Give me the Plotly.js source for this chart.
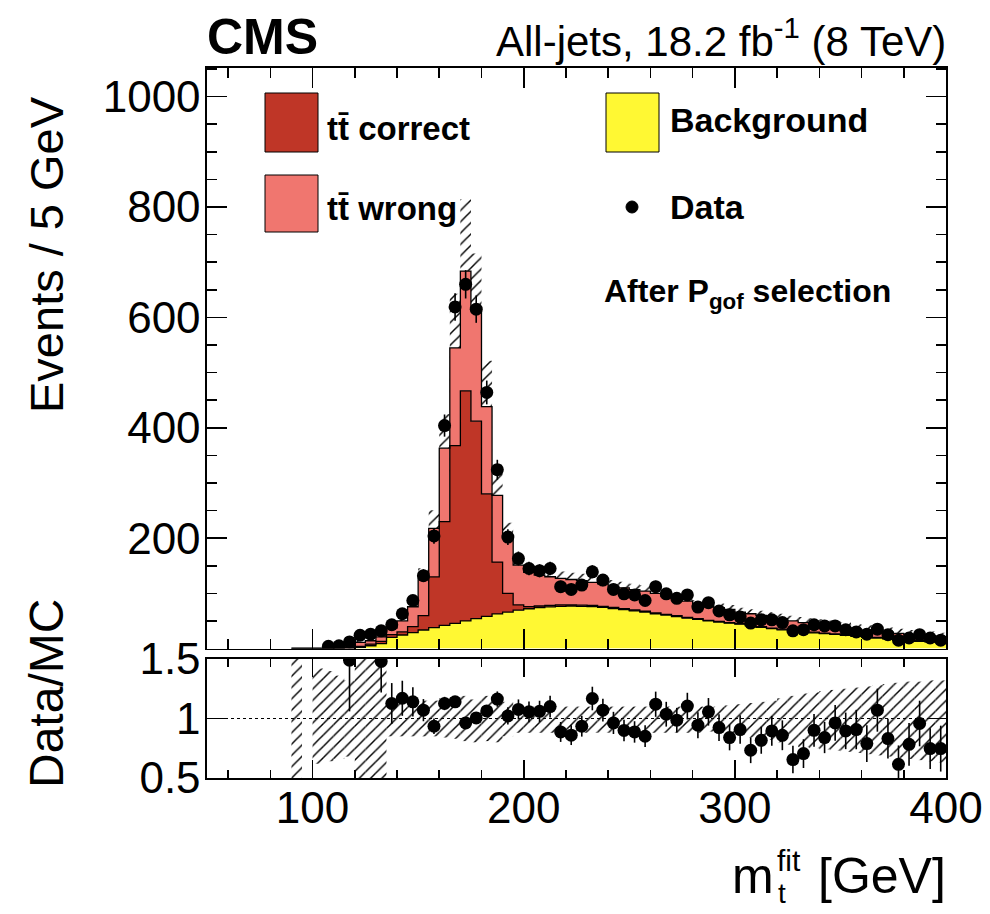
<!DOCTYPE html>
<html>
<head>
<meta charset="utf-8">
<script src="https://cdn.plot.ly/plotly-3.0.1.min.js"></script>
<style>html,body{margin:0;padding:0;background:#fff;} #chart{width:990px;height:914px;}</style>
</head>
<body>
<div id="chart"></div>
<script>
// ---- data (5 GeV bins, low edges) ----
const binLow = [90,95,100,105,110,115,120,125,130,135,140,145,150,155,160,165,170,175,180,185,190,195,200,205,210,215,220,225,230,235,240,245,250,255,260,265,270,275,280,285,290,295,300,305,310,315,320,325,330,335,340,345,350,355,360,365,370,375,380,385,390,395];
const binWidth = 5;
const dataCounts = [null,null,null,4,5,12,24,26,32,43,63,87,132,204,404,619,660,615,464,324,202,163,145,141,145,112,107,115,139,124,107,99,97,87,112,99,91,97,75,83,68,61,57,46,52,52,47,32,34,43,41,41,34,30,26,35,25,15,19,25,19,15];
const background = [0,0,0,0,0,0,2,5,9,20,24.5,28.7,33.5,37.8,42,45.7,50,54,58.3,62.6,66,69.5,72,74,75.5,76.5,77,76.5,76,74.5,72.5,70.5,68.3,66,63,60.5,58,55,53,50,48,46,44,41,38.5,36,34,32,30,28.5,27,25.5,24,22,20.5,19,17.5,15.5,14.5,13,12,11];
const ttCorrect = [0,0,0,0,1,2,2,3,4,5,5.5,11,26,92,188,322,417,358,222,94,34,9.5,4,3,2.5,2.5,2,2,2,2,2,1.5,1.5,1.5,1.5,1.5,1.5,1.5,1,1,1,1,1,1,1,1,1,1,1,1,1,1,1,1,1,1,1,1,1,1,1,1];
const ttWrong = [0,0,0,1,2,6,7,6,8,12,20,36,67,88,133,177,217,205,158,121,100,72,62,56,52,48,46,44.5,42,40.5,38.5,38,37,36.5,35.5,32,30.5,29.5,26,26,25,24,21,21,20.5,20,19,17,16,15.5,15,14.5,13,12,11.5,11.5,11,11,10,10,10.5,9.5];
const ratio = [null,null,null,null,null,1.49,null,null,1.48,1.126,1.17,1.14,1.07,0.935,1.126,1.14,0.963,1.005,1.064,1.163,1.022,1.076,1.056,1.06,1.10,0.887,0.86,0.935,1.168,1.07,0.963,0.90,0.887,0.851,1.12,1.036,0.986,1.104,0.944,1.056,0.924,0.84,0.907,0.733,0.817,0.896,0.859,0.655,0.705,0.901,0.84,0.963,0.896,0.907,0.789,1.07,0.831,0.615,0.783,0.958,0.747,0.747];
const uncUp = [0.6,0,0.42,0.40,0.36,0.32,0.6,0.6,0.6,0.15,0.15,0.15,0.15,0.15,0.17,0.18,0.19,0.16,0.19,0.2,0.14,0.10,0.10,0.10,0.10,0.10,0.10,0.10,0.10,0.10,0.10,0.10,0.10,0.10,0.10,0.10,0.10,0.10,0.10,0.09,0.10,0.11,0.12,0.13,0.14,0.15,0.17,0.19,0.21,0.22,0.23,0.24,0.25,0.26,0.27,0.28,0.29,0.30,0.31,0.31,0.32,0.32];
const uncDn = [0.6,0,0.38,0.36,0.34,0.32,0.6,0.6,0.6,0.15,0.15,0.15,0.15,0.15,0.16,0.17,0.19,0.20,0.19,0.2,0.15,0.12,0.12,0.12,0.12,0.12,0.12,0.12,0.12,0.12,0.12,0.12,0.12,0.12,0.12,0.12,0.12,0.12,0.12,0.11,0.12,0.13,0.14,0.16,0.17,0.18,0.20,0.22,0.24,0.25,0.26,0.27,0.28,0.29,0.30,0.31,0.32,0.33,0.34,0.35,0.36,0.37];
const xTickVals = [100,200,300,400];
const yTickVals = [0,200,400,600,800,1000];
const yTickText = ['','200','400','600','800','1000'];
const rTickVals = [0.5,1,1.5];
const rTickText = ['0.5','1','1.5'];

// ---- derived for drawing ----
const centers = binLow.map(v => v + binWidth/2);
const edges = binLow.concat([binLow[binLow.length-1] + binWidth]);
const cumBkg = background.slice();
const cumCorr = background.map((v,i) => v + ttCorrect[i]);
const cumAll = cumCorr.map((v,i) => v + ttWrong[i]);
const ext = a => a.concat([a[a.length-1]]);

const FONT = 'Liberation Sans, Arial, Helvetica, sans-serif';
const W = 990, H = 914;
const px = v => v / W;
const py = v => 1 - v / H;

const C_CORR = '#bf3627', C_WRONG = '#f0766f', C_BKG = '#fff833';

const hatch = {shape: '/', fgcolor: '#000', fgopacity: 1, bgcolor: 'rgba(0,0,0,0)', size: 8, solidity: 0.18, fillmode: 'overlay'};

const traces = [
  {type:'scatter', mode:'lines', x: edges, y: ext(cumBkg), line:{shape:'hv', color:'#000', width:1.3}, fill:'tozeroy', fillcolor:C_BKG, xaxis:'x', yaxis:'y', hoverinfo:'skip'},
  {type:'scatter', mode:'lines', x: edges, y: ext(cumCorr), line:{shape:'hv', color:'#000', width:1.3}, fill:'tonexty', fillcolor:C_CORR, xaxis:'x', yaxis:'y', hoverinfo:'skip'},
  {type:'scatter', mode:'lines', x: edges, y: ext(cumAll), line:{shape:'hv', color:'#000', width:1.3}, fill:'tonexty', fillcolor:C_WRONG, xaxis:'x', yaxis:'y', hoverinfo:'skip'},
  // MC uncertainty band (main)
  {type:'bar', x: centers, y: cumAll.map((v,i) => v*(uncUp[i]+uncDn[i])), base: cumAll.map((v,i) => v*(1-uncDn[i])), width: binWidth,
   marker:{color:'rgba(0,0,0,0)', line:{width:0}, pattern: hatch}, xaxis:'x', yaxis:'y', hoverinfo:'skip'},
  // data
  {type:'scatter', mode:'markers', x: centers, y: dataCounts,
   error_y:{type:'data', array: dataCounts.map(v => v==null?null:Math.sqrt(v)), visible:true, width:0, thickness:1.6, color:'#000'},
   marker:{color:'#000', size:13}, xaxis:'x', yaxis:'y', hoverinfo:'skip'},
  // ratio band
  {type:'bar', x: centers, y: uncUp.map((v,i) => v + uncDn[i]), base: uncDn.map(v => 1 - v), width: binWidth,
   marker:{color:'rgba(0,0,0,0)', line:{width:0}, pattern: hatch}, xaxis:'x2', yaxis:'y2', hoverinfo:'skip'},
  // ratio points
  {type:'scatter', mode:'markers', x: centers, y: ratio,
   error_y:{type:'data', array: ratio.map((r,i) => (r==null||!dataCounts[i])?null:r/Math.sqrt(dataCounts[i])), visible:true, width:0, thickness:1.6, color:'#000'},
   marker:{color:'#000', size:13}, xaxis:'x2', yaxis:'y2', hoverinfo:'skip'}
];

const axisCommon = {showline:true, linecolor:'#000', linewidth:1.6, mirror:'ticks', ticks:'inside', tickcolor:'#000', tickwidth:1.6, showgrid:false, zeroline:false,
  tickfont:{family:FONT, size:44, color:'#000'}};

const xDom = [px(207), px(946)];
const layout = {
  width: W, height: H, margin:{l:0, r:0, t:0, b:0},
  paper_bgcolor:'#fff', plot_bgcolor:'#fff', showlegend:false, barmode:'overlay',
  xaxis: Object.assign({}, axisCommon, {domain:xDom, range:[50,400], anchor:'y', tickmode:'array', tickvals:xTickVals, ticklen:20, showticklabels:false,
     minor:{tickmode:'linear', tick0:0, dtick:20, ticklen:10, ticks:'inside', tickcolor:'#000', tickwidth:1.6}}),
  yaxis: Object.assign({}, axisCommon, {domain:[py(648.5), py(68)], range:[0,1052], anchor:'x', tickmode:'array', tickvals:yTickVals, ticktext:yTickText, ticklen:20, ticklabelstandoff:-4,
     minor:{tickmode:'linear', tick0:0, dtick:50, ticklen:10, ticks:'inside', tickcolor:'#000', tickwidth:1.6}}),
  xaxis2: Object.assign({}, axisCommon, {domain:xDom, range:[50,400], anchor:'y2', tickmode:'array', tickvals:xTickVals, ticklen:18, ticklabelstandoff:-9,
     minor:{tickmode:'linear', tick0:0, dtick:20, ticklen:8, ticks:'inside', tickcolor:'#000', tickwidth:1.6}}),
  yaxis2: Object.assign({}, axisCommon, {domain:[py(778), py(659)], range:[0.5,1.5], anchor:'x2', tickmode:'array', tickvals:rTickVals, ticktext:rTickText, ticklen:18, ticklabelstandoff:-4}),
  shapes: [
    {type:'line', xref:'x2', yref:'y2', x0:50, x1:400, y0:1, y1:1, line:{color:'#000', width:1, dash:'dot'}, layer:'below'},
    {type:'rect', xref:'paper', yref:'paper', x0:px(265), x1:px(318), y0:py(152), y1:py(93), fillcolor:C_CORR, line:{color:'#000', width:1}},
    {type:'rect', xref:'paper', yref:'paper', x0:px(265), x1:px(318), y0:py(232), y1:py(175), fillcolor:C_WRONG, line:{color:'#000', width:1}},
    {type:'rect', xref:'paper', yref:'paper', x0:px(606), x1:px(659), y0:py(152), y1:py(93), fillcolor:C_BKG, line:{color:'#000', width:1}},
    {type:'circle', xref:'paper', yref:'paper', x0:px(626), x1:px(638), y0:py(213), y1:py(201), fillcolor:'#000', line:{color:'#000', width:1}}
  ],
  annotations: [
    {xref:'paper', yref:'paper', x:px(205), y:py(37), xanchor:'left', yanchor:'middle', showarrow:false, text:'<b>CMS</b>', font:{family:FONT, size:50, color:'#000'}},
    {xref:'paper', yref:'paper', x:px(948), y:py(38), xanchor:'right', yanchor:'middle', showarrow:false, text:'All-jets, 18.2 fb<sup>-1</sup> (8 TeV)', font:{family:FONT, size:42, color:'#000'}},
    {xref:'paper', yref:'paper', x:px(325), y:py(128), xanchor:'left', yanchor:'middle', showarrow:false, text:'<b>tt\u0304 correct</b>', font:{family:FONT, size:33, color:'#000'}},
    {xref:'paper', yref:'paper', x:px(325), y:py(208), xanchor:'left', yanchor:'middle', showarrow:false, text:'<b>tt\u0304 wrong</b>', font:{family:FONT, size:33, color:'#000'}},
    {xref:'paper', yref:'paper', x:px(668), y:py(120), xanchor:'left', yanchor:'middle', showarrow:false, text:'<b>Background</b>', font:{family:FONT, size:34, color:'#000'}},
    {xref:'paper', yref:'paper', x:px(668), y:py(207), xanchor:'left', yanchor:'middle', showarrow:false, text:'<b>Data</b>', font:{family:FONT, size:34, color:'#000'}},
    {xref:'paper', yref:'paper', x:px(602), y:py(293), xanchor:'left', yanchor:'middle', showarrow:false, text:'<b>After P<sub>gof</sub> selection</b>', font:{family:FONT, size:32, color:'#000'}},
    {xref:'paper', yref:'paper', x:px(46), y:py(255), xanchor:'center', yanchor:'middle', textangle:-90, showarrow:false, text:'Events / 5 GeV', font:{family:FONT, size:47, color:'#000'}},
    {xref:'paper', yref:'paper', x:px(46), y:py(694), xanchor:'center', yanchor:'middle', textangle:-90, showarrow:false, text:'Data/MC', font:{family:FONT, size:48, color:'#000'}},
    {xref:'paper', yref:'paper', x:px(776), y:py(876), xanchor:'right', yanchor:'middle', showarrow:false, text:'m', font:{family:FONT, size:50, color:'#000'}},
    {xref:'paper', yref:'paper', x:px(775), y:py(860), xanchor:'left', yanchor:'middle', showarrow:false, text:'fit', font:{family:FONT, size:30, color:'#000'}},
    {xref:'paper', yref:'paper', x:px(776), y:py(893), xanchor:'left', yanchor:'middle', showarrow:false, text:'t', font:{family:FONT, size:28, color:'#000'}},
    {xref:'paper', yref:'paper', x:px(948), y:py(876), xanchor:'right', yanchor:'middle', showarrow:false, text:'[GeV]', font:{family:FONT, size:50, color:'#000'}}
  ]
};

Plotly.newPlot('chart', traces, layout, {displayModeBar:false, staticPlot:true});
</script>
</body>
</html>
